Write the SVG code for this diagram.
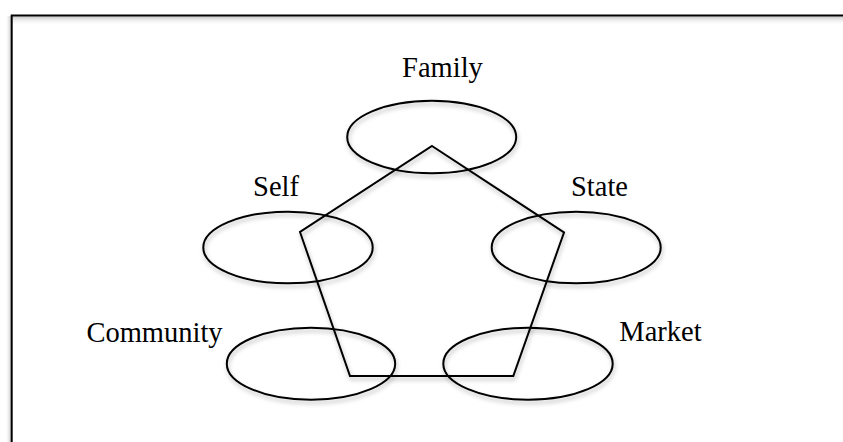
<svg xmlns="http://www.w3.org/2000/svg" width="843" height="442" viewBox="0 0 843 442">
  <defs>
    <filter id="sh" x="-20%" y="-20%" width="140%" height="160%">
      <feDropShadow dx="1" dy="3" stdDeviation="2" flood-color="#000" flood-opacity="0.28"/>
    </filter>
    <linearGradient id="topShade" x1="0" y1="0" x2="0" y2="1">
      <stop offset="0" stop-color="#c8c8c8"/>
      <stop offset="1" stop-color="#ffffff" stop-opacity="0"/>
    </linearGradient>
    <linearGradient id="leftShade" x1="1" y1="0" x2="0" y2="0">
      <stop offset="0" stop-color="#c8c8c8"/>
      <stop offset="1" stop-color="#ffffff" stop-opacity="0"/>
    </linearGradient>
  </defs>
  <style>
    .node { fill: none; stroke: #000; stroke-width: 2; filter: url(#sh); }
    .lbl { font-family: "Liberation Serif", "Times New Roman", serif; font-size: 28.5px; fill: #000; text-anchor: middle; }
    .frame { fill: none; stroke: #000; stroke-width: 2; }
  </style>
  <rect x="0" y="0" width="843" height="442" fill="#fff"/>
  <g id="frame">
    <rect x="12.5" y="16.5" width="831" height="9" fill="url(#topShade)"/>
    <rect x="5" y="16" width="6" height="426" fill="url(#leftShade)"/>
    <rect class="frame" x="11.7" y="15.5" width="850" height="450"/>
  </g>
  <g id="connectors">
    <polygon class="node" points="432,146 564,232.5 513.3,376 350,376 300,232"/>
  </g>
  <g id="family">
    <ellipse class="node" cx="431.7" cy="137" rx="84.5" ry="36.3"/>
    <text class="lbl" x="442.5" y="76.5">Family</text>
  </g>
  <g id="self">
    <ellipse class="node" cx="288" cy="247.5" rx="84.7" ry="35.8"/>
    <text class="lbl" x="276" y="196">Self</text>
  </g>
  <g id="state">
    <ellipse class="node" cx="576.2" cy="247.5" rx="84.5" ry="35.8"/>
    <text class="lbl" x="599.5" y="196">State</text>
  </g>
  <g id="community">
    <ellipse class="node" cx="311" cy="363.7" rx="84.2" ry="36"/>
    <text class="lbl" x="154.5" y="341.5">Community</text>
  </g>
  <g id="market">
    <ellipse class="node" cx="528" cy="363.7" rx="84.7" ry="36"/>
    <text class="lbl" x="660.5" y="341">Market</text>
  </g>
</svg>
